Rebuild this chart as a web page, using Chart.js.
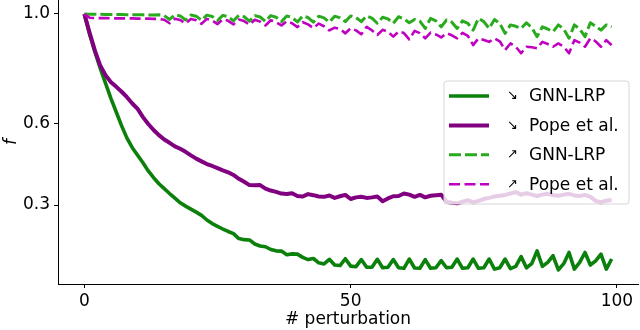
<!DOCTYPE html>
<html>
<head>
<meta charset="utf-8">
<script src="https://cdn.jsdelivr.net/npm/chart.js@4.4.1/dist/chart.umd.min.js"></script>
<style>
  html, body { margin: 0; padding: 0; background: #fff; }
  #wrap { width: 640px; height: 330px; position: relative; }
</style>
</head>
<body>
<div id="wrap"><canvas id="chart"></canvas></div>
<script>
// x positions: number of perturbation steps (0..99)
const perturbations = Array.from({ length: 100 }, (_, i) => i);
const xTicks = [0, 50, 100];
const yTicks = [0.3, 0.6, 1.0];

// ↘ curves (removing most relevant first)
const gnnLrpDown = [
  1.000, 0.925, 0.860, 0.800, 0.745, 0.690, 0.640, 0.590, 0.545, 0.510,
  0.482, 0.455, 0.425, 0.400, 0.378, 0.360, 0.342, 0.325, 0.308, 0.296,
  0.285, 0.274, 0.262, 0.245, 0.232, 0.222, 0.212, 0.203, 0.195, 0.177,
  0.173, 0.172, 0.157, 0.150, 0.147, 0.137, 0.132, 0.131, 0.118, 0.121,
  0.120, 0.108, 0.100, 0.104, 0.088, 0.084, 0.101, 0.080, 0.078, 0.103,
  0.076, 0.074, 0.100, 0.072, 0.072, 0.101, 0.070, 0.072, 0.100, 0.070,
  0.068, 0.102, 0.069, 0.068, 0.100, 0.068, 0.070, 0.096, 0.070, 0.072,
  0.102, 0.068, 0.070, 0.102, 0.068, 0.070, 0.102, 0.065, 0.070, 0.102,
  0.067, 0.075, 0.111, 0.070, 0.085, 0.132, 0.075, 0.090, 0.114, 0.062,
  0.085, 0.126, 0.065, 0.090, 0.126, 0.080, 0.095, 0.120, 0.065, 0.102,
];
const popeDown = [
  1.000, 0.930, 0.865, 0.810, 0.775, 0.750, 0.733, 0.715, 0.695, 0.672,
  0.652, 0.622, 0.597, 0.575, 0.556, 0.540, 0.528, 0.515, 0.506, 0.495,
  0.482, 0.470, 0.460, 0.450, 0.443, 0.435, 0.427, 0.420, 0.410, 0.396,
  0.385, 0.373, 0.372, 0.373, 0.360, 0.353, 0.348, 0.342, 0.340, 0.343,
  0.333, 0.331, 0.340, 0.336, 0.331, 0.330, 0.335, 0.326, 0.332, 0.337,
  0.322, 0.328, 0.330, 0.326, 0.328, 0.331, 0.314, 0.324, 0.332, 0.333,
  0.342, 0.338, 0.330, 0.337, 0.328, 0.334, 0.336, 0.338, 0.312, 0.308,
  0.306, 0.312, 0.318, 0.310, 0.315, 0.322, 0.326, 0.331, 0.334, 0.337,
  0.342, 0.347, 0.338, 0.343, 0.338, 0.333, 0.338, 0.341, 0.336, 0.334,
  0.338, 0.341, 0.335, 0.333, 0.337, 0.330, 0.315, 0.310, 0.316, 0.318,
];

// ↗ curves (removing least relevant first)
const gnnLrpUp = [
  1.000, 0.999, 0.999, 0.999, 0.998, 0.998, 0.998, 0.998, 0.997, 0.997,
  0.997, 0.997, 0.996, 0.996, 0.997, 0.994, 0.980, 0.997, 0.993, 0.978,
  0.996, 0.992, 0.977, 0.996, 0.991, 0.976, 0.995, 0.990, 0.975, 0.995,
  0.990, 0.974, 0.994, 0.989, 0.973, 0.994, 0.988, 0.972, 0.993, 0.987,
  0.971, 0.993, 0.987, 0.970, 0.992, 0.986, 0.970, 0.992, 0.986, 0.972,
  0.993, 0.987, 0.972, 0.993, 0.985, 0.966, 0.988, 0.982, 0.966, 0.990,
  0.982, 0.968, 0.980, 0.974, 0.947, 0.984, 0.975, 0.953, 0.978, 0.970,
  0.947, 0.975, 0.966, 0.941, 0.984, 0.972, 0.947, 0.980, 0.965, 0.929,
  0.960, 0.955, 0.947, 0.968, 0.950, 0.917, 0.953, 0.945, 0.935, 0.960,
  0.945, 0.911, 0.960, 0.945, 0.917, 0.968, 0.955, 0.941, 0.960, 0.953,
];
const popeUp = [
  1.000, 0.986, 0.985, 0.985, 0.985, 0.984, 0.984, 0.984, 0.984, 0.984,
  0.983, 0.983, 0.983, 0.982, 0.982, 0.979, 0.966, 0.983, 0.978, 0.965,
  0.982, 0.977, 0.964, 0.982, 0.976, 0.963, 0.981, 0.975, 0.962, 0.980,
  0.974, 0.961, 0.979, 0.972, 0.958, 0.977, 0.970, 0.958, 0.974, 0.966,
  0.952, 0.970, 0.962, 0.948, 0.965, 0.955, 0.940, 0.950, 0.945, 0.929,
  0.948, 0.940, 0.926, 0.953, 0.940, 0.923, 0.942, 0.935, 0.917, 0.936,
  0.930, 0.907, 0.938, 0.930, 0.911, 0.932, 0.925, 0.914, 0.930, 0.922,
  0.911, 0.931, 0.920, 0.886, 0.911, 0.905, 0.898, 0.911, 0.900, 0.868,
  0.892, 0.880, 0.856, 0.880, 0.878, 0.874, 0.898, 0.890, 0.880, 0.892,
  0.880, 0.856, 0.904, 0.895, 0.880, 0.911, 0.900, 0.880, 0.904, 0.886,
];

const seriesNames = ["GNN-LRP", "Pope et al.", "GNN-LRP", "Pope et al."];
const seriesArrows = ["↘", "↘", "↗", "↗"];

Chart.defaults.font.family = '"DejaVu Sans", sans-serif';
Chart.defaults.color = "#000";

/*
 * pair the perturbation steps with the values of one curve.
 * @param {array} values - f values per step.
 * @returns {array} points for a linear x scale.
 */
const toPoints = (values) =>
  values.map((y, i) => ({ x: perturbations[i], y }));

/*
 * matplotlib style legend drawn inside the plot, on top of the lines
 * (semi transparent white box, the lines shine through).
 */
const innerLegend = {
  id: "innerLegend",
  afterDatasetsDraw: (chart) => {
    const { ctx, chartArea } = chart;
    const x = chartArea.right - 194;
    const y = 81;
    const w = 185;
    const h = 123;
    const r = 3;
    ctx.save();
    ctx.beginPath();
    ctx.moveTo(x + r, y);
    ctx.arcTo(x + w, y, x + w, y + h, r);
    ctx.arcTo(x + w, y + h, x, y + h, r);
    ctx.arcTo(x, y + h, x, y, r);
    ctx.arcTo(x, y, x + w, y, r);
    ctx.closePath();
    ctx.fillStyle = "rgba(255,255,255,0.8)";
    ctx.fill();
    ctx.strokeStyle = "#d6d6d6";
    ctx.lineWidth = 1;
    ctx.stroke();

    chart.data.datasets.forEach((ds, k) => {
      const rowY = y + 15 + k * 29.4;
      ctx.beginPath();
      ctx.setLineDash(ds.borderDash || []);
      ctx.lineWidth = ds.legendWidth;
      ctx.strokeStyle = ds.borderColor;
      ctx.moveTo(x + 5, rowY);
      ctx.lineTo(x + 45, rowY);
      ctx.stroke();
      ctx.setLineDash([]);
      ctx.fillStyle = "#000";
      ctx.textBaseline = "middle";
      ctx.textAlign = "left";
      ctx.font = '13px "DejaVu Sans"';
      ctx.fillText(seriesArrows[k], x + 63, rowY);
      ctx.font = '17px "DejaVu Sans"';
      ctx.fillText(seriesNames[k], x + 85, rowY + 1);
    });
    ctx.restore();
  },
};

const makeDataset = (k, values, color, width, dash) => ({
  label: `${seriesArrows[k]} ${seriesNames[k]}`,
  data: toPoints(values),
  borderColor: color,
  borderWidth: width,
  legendWidth: width,
  borderDash: dash,
  borderJoinStyle: "round",
  borderCapStyle: "butt",
  pointRadius: 0,
  tension: 0,
  fill: false,
  order: 4 - k, // later curves on top, like matplotlib
});

const axisGrid = {
  display: true,
  drawOnChartArea: false,
  drawTicks: true,
  tickLength: 4,
  tickWidth: 1,
  color: "#000",
};

const ctx = document.getElementById("chart").getContext("2d");
const chart = new Chart(ctx, {
  type: "line",
  data: {
    datasets: [
      makeDataset(0, gnnLrpDown, "#0b800b", 3.6, []),
      makeDataset(1, popeDown, "#800080", 4, []),
      makeDataset(2, gnnLrpUp, "#2aaa1e", 3, [12, 4]),
      makeDataset(3, popeUp, "#c000c0", 2.6, [11, 4.5]),
    ],
  },
  options: {
    responsive: true,
    maintainAspectRatio: false,
    animation: false,
    layout: { padding: { left: 0, right: 2, top: 0, bottom: 0 } },
    plugins: {
      legend: { display: false },
      tooltip: { enabled: false },
    },
    scales: {
      x: {
        type: "linear",
        min: -4.95,
        max: 103.95,
        afterBuildTicks: (scale) => {
          scale.ticks = xTicks.map((value) => ({ value }));
        },
        afterFit: (scale) => {
          scale.height = 46;
          scale.paddingLeft = 0;
          scale.paddingRight = 0;
        },
        grid: axisGrid,
        border: { display: true, color: "#000", width: 1 },
        ticks: {
          font: { size: 17 },
          padding: 3,
          maxRotation: 0,
          autoSkip: false,
          callback: (value) => String(value),
        },
        title: {
          display: true,
          text: "# perturbation",
          font: { size: 17 },
          padding: { top: 0, bottom: 0 },
        },
      },
      y: {
        type: "linear",
        min: 0.0105,
        max: 1.0513,
        afterBuildTicks: (scale) => {
          scale.ticks = yTicks.map((value) => ({ value }));
        },
        afterFit: (scale) => {
          scale.width = 58;
          scale.paddingTop = 0;
          scale.paddingBottom = 0;
        },
        grid: axisGrid,
        border: { display: true, color: "#000", width: 1 },
        ticks: {
          font: { size: 17 },
          padding: 4,
          autoSkip: false,
          callback: (value) => value.toFixed(1),
        },
        title: {
          display: true,
          text: "f",
          font: { size: 17, style: "italic" },
          padding: { top: 1, bottom: 0 },
        },
      },
    },
  },
  plugins: [innerLegend],
});
</script>
</body>
</html>
